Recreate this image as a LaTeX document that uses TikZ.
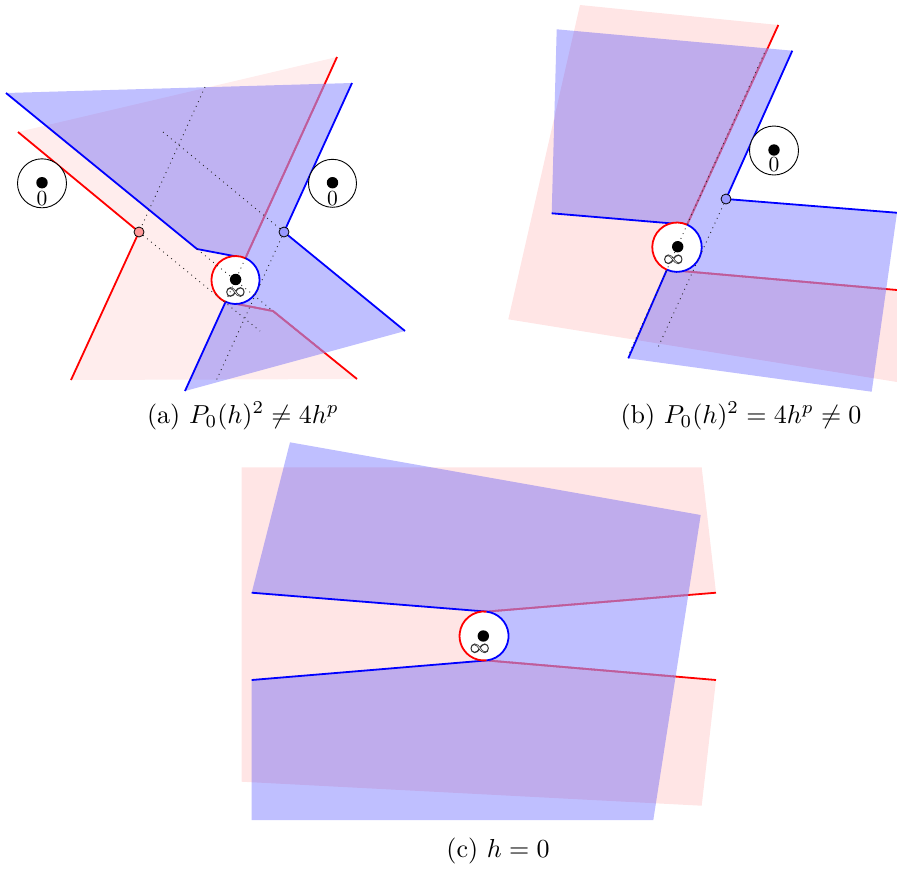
\documentclass[tikz,border=0pt]{standalone}
\newcommand\hollowinf{\special{pdf:literal direct 1 Tr 0.3 w}$\infty$\special{pdf:literal direct 0 Tr}}
\definecolor{purp}{RGB}{191,184,245}
\tikzset{
  pinkfill/.style={fill=red, fill opacity=0.1, draw=none},
  pinkfilla/.style={fill=red, fill opacity=0.07, draw=none},
  bluefill/.style={fill=blue, fill opacity=0.25, draw=none},
  redline/.style={draw=red, line width=1.8pt, line join=round},
  redover/.style={draw=purp, draw opacity=0.5, line width=1.9pt, line join=round},
  blueline/.style={draw=blue, line width=1.8pt, line join=round},
  dotline/.style={draw=black!85, line width=0.9pt, dash pattern=on 0.9pt off 4.3pt},
  ring/.style={draw=black, line width=0.9pt, fill=white},
  hole/.style={fill=white, draw=none},
  bdot/.style={circle, fill=black, inner sep=0pt, minimum size=11.4pt},
  pdot/.style={circle, draw=black, line width=0.8pt, fill=red!40, inner sep=0pt, minimum size=10pt},
  bldot/.style={circle, draw=black, line width=0.8pt, fill=blue!40, inner sep=0pt, minimum size=10pt},
  lbl/.style={scale=2.15, inner sep=0pt},
  infl/.style={scale=2.0, inner sep=0pt, text=black!80},
  captxt/.style={scale=2.6, inner sep=0pt}
}
\begin{document}
\begin{tikzpicture}[x=1pt,y=-1pt]
\useasboundingbox (0,0) rectangle (897,871);
\clip (0,0) rectangle (897,871);

% ================= panel (a) =================
\coordinate (Ca) at (235.5,280);
\coordinate (Ta) at (245.4,258.2);
\coordinate (Ba) at (225.6,301.8);
\coordinate (K1a) at (197,249);
\coordinate (K2a) at (273,311);
\coordinate (ar1) at (337,57);
\coordinate (ab1) at (185,391);
\coordinate (ab2) at (6,93);
\coordinate (ar2) at (357,379);
\coordinate (abt) at (352,83);
\coordinate (BDa) at (284,232);
\coordinate (ab3) at (405,331);
\coordinate (ar3) at (18,132);
\coordinate (PDa) at (139,232);
\coordinate (ar4) at (71,380);
\coordinate (ad1) at (205,87);
\coordinate (ad2) at (163,132);
\coordinate (ad3) at (260,331);
\coordinate (ad4) at (216.5,380);

\path[pinkfilla] (ar3) -- (ar1) -- (Ta) arc[start angle=-65.5, end angle=-245.5, radius=24]
   -- (K2a) -- (ar2) -- (ar4) -- (PDa) -- cycle;
\draw[redline] (ar1) -- (Ta);
\draw[redline] (Ba) -- (K2a) -- (ar2);
\draw[redline] (ar3) -- (PDa) -- (ar4);
\path[bluefill] (ab2) -- (abt) -- (BDa) -- (ab3) -- (ab1) -- (Ba)
   arc[start angle=114.5, end angle=-65.5, radius=24] -- (K1a) -- cycle;
\begin{scope}
  \clip (ab2) -- (abt) -- (BDa) -- (ab3) -- (ab1) -- (Ba)
   arc[start angle=114.5, end angle=-65.5, radius=24] -- (K1a) -- cycle;
  \draw[redover] (ar1) -- (Ta);
  \draw[redover] (Ba) -- (K2a) -- (ar2);
\end{scope}
\draw[blueline] (ab2) -- (K1a) -- (Ta);
\draw[blueline] (abt) -- (BDa) -- (ab3);
\draw[blueline] (ab1) -- (Ba);
\path[hole] (Ca) circle[radius=24];
\draw[redline] (Ta) arc[start angle=-65.5, end angle=-245.5, radius=24];
\draw[blueline] (Ba) arc[start angle=114.5, end angle=-65.5, radius=24];
\draw[dotline] (ad1) -- (PDa);
\draw[dotline] (ad2) -- (BDa);
\draw[dotline] (PDa) -- (ad3);
\draw[dotline] (BDa) -- (ad4);
\draw[dotline] (K1a) -- (K2a);
\draw[dotline] (Ta) -- (Ba);
\node[pdot] (pda) at (PDa) {};
\node[bldot] (bda) at (BDa) {};
\node[bdot] (ia) at (235.6,279.5) {};
\node[infl] (ila) at (235.4,292) {\hollowinf};
% zero circles
\node[ring, circle, minimum size=49pt, inner sep=0pt] (za1) at (42,183.3) {};
\node[bdot] (zda1) at (42,182.7) {};
\node[lbl] (zla1) at (42,198.3) {$0$};
\node[ring, circle, minimum size=48pt, inner sep=0pt] (za2) at (332.5,183.3) {};
\node[bdot] (zda2) at (332.5,182.7) {};
\node[lbl] (zla2) at (332.5,198.3) {$0$};
\node[captxt] (capa) at (243,416) {(a) $P_0(h)^2 \neq 4h^p$};

% ================= panel (b) =================
\coordinate (Cb) at (677,247.2);
\coordinate (Tb) at (687.1,224.7);
\coordinate (Bb) at (666.9,269.7);
\coordinate (br1) at (778.3,25);
\coordinate (bb1) at (628.3,358.3);
\coordinate (bb2) at (551.7,213.3);
\coordinate (br2) at (905,290.7);
\coordinate (bbt) at (792.3,50.7);
\coordinate (BDb) at (726,199);
\coordinate (bb3) at (905,213.4);
\coordinate (bfr) at (897,212.7);
\coordinate (bfbr) at (871.7,391.7);
\coordinate (bftl) at (556.7,29.3);
\coordinate (pftl) at (580,5);
\coordinate (pfr) at (897,290);
\coordinate (pfbr) at (897,382);
\coordinate (pfbl) at (508.3,319.3);
\coordinate (bd1) at (658.3,346.7);
\coordinate (bd2) at (764.3,53);
\coordinate (bd3) at (629,354);

\path[pinkfill] (pftl) -- (br1) -- (Tb) arc[start angle=-65.8, end angle=-245.8, radius=24.7]
   -- (pfr) -- (pfbr) -- (pfbl) -- cycle;
\draw[redline] (br1) -- (Tb);
\draw[redline] (Bb) -- (br2);
\path[bluefill] (bftl) -- (bbt) -- (BDb) -- (bfr) -- (bfbr) -- (bb1) -- (Bb)
   arc[start angle=114.2, end angle=-65.8, radius=24.7] -- (bb2) -- cycle;
\begin{scope}
  \clip (bftl) -- (bbt) -- (BDb) -- (bfr) -- (bfbr) -- (bb1) -- (Bb)
   arc[start angle=114.2, end angle=-65.8, radius=24.7] -- (bb2) -- cycle;
  \draw[redover] (br1) -- (Tb);
  \draw[redover] (Bb) -- (br2);
\end{scope}
\draw[blueline] (bb2) -- (Tb);
\draw[blueline] (bbt) -- (BDb) -- (bb3);
\draw[blueline] (bb1) -- (Bb);
\path[hole] (Cb) circle[radius=24.7];
\draw[redline] (Tb) arc[start angle=-65.8, end angle=-245.8, radius=24.7];
\draw[blueline] (Bb) arc[start angle=114.2, end angle=-65.8, radius=24.7];
\draw[dotline] (BDb) -- (bd1);
\draw[dotline] (bd2) -- (bd3);
\node[bldot] (bdb) at (BDb) {};
\node[bdot] (ib) at (677.7,246.7) {};
\node[infl] (ilb) at (673.3,259.3) {\hollowinf};
\node[ring, circle, minimum size=49pt, inner sep=0pt] (zb) at (774,150.5) {};
\node[bdot] (zdb) at (774,150) {};
\node[lbl] (zlb) at (774,165) {$0$};
\node[captxt] (capb) at (741,416) {(b) $P_0(h)^2 = 4h^p \neq 0$};

% ================= panel (c) =================
\coordinate (Cc) at (484,636);
\coordinate (Tc) at (486.6,611.6);
\coordinate (Bc) at (486.6,660.4);
\coordinate (cbu) at (251.7,592.7);
\coordinate (cbl) at (251.7,680);
\coordinate (cru) at (716,592.7);
\coordinate (crl) at (716,680);
\coordinate (cp1) at (241.7,467.3);
\coordinate (cp2) at (701.7,467.3);
\coordinate (cp3) at (701.7,805.7);
\coordinate (cp4) at (241.7,781.7);
\coordinate (cb1) at (290,442.3);
\coordinate (cb2) at (700.7,515);
\coordinate (cb3) at (653.3,820);
\coordinate (cb4) at (251.7,820);

\path[pinkfill] (cp1) -- (cp2) -- (cru) -- (Tc) arc[start angle=-84, end angle=-276, radius=24.5]
   -- (crl) -- (cp3) -- (cp4) -- cycle;
\draw[redline] (Tc) -- (cru);
\draw[redline] (Bc) -- (crl);
\path[bluefill] (cb1) -- (cb2) -- (cb3) -- (cb4) -- (cbl) -- (Bc)
   arc[start angle=84, end angle=-84, radius=24.5] -- (cbu) -- cycle;
\begin{scope}
  \clip (cb1) -- (cb2) -- (cb3) -- (cb4) -- (cbl) -- (Bc)
   arc[start angle=84, end angle=-84, radius=24.5] -- (cbu) -- cycle;
  \draw[redover] (Tc) -- (cru);
  \draw[redover] (Bc) -- (crl);
\end{scope}
\draw[blueline] (cbu) -- (Tc);
\draw[blueline] (cbl) -- (Bc);
\path[hole] (Cc) circle[radius=24.5];
\draw[redline] (Tc) arc[start angle=-84, end angle=-276, radius=24.5];
\draw[blueline] (Bc) arc[start angle=84, end angle=-84, radius=24.5];
\node[bdot] (ic) at (483.3,636) {};
\node[infl] (ilc) at (479.7,648.3) {\hollowinf};
\node[captxt] (capc) at (498,851) {(c) $h = 0$};
\end{tikzpicture}
\end{document}
